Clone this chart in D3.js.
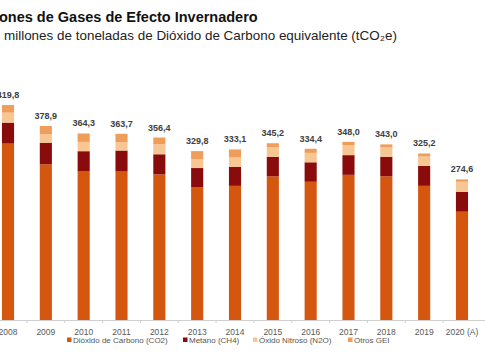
<!DOCTYPE html>
<html>
<head>
<meta charset="utf-8">
<script src="https://cdn.jsdelivr.net/npm/d3@7"></script>
<style>
  body { margin: 0; background: #fff; }
  svg { display: block; }
</style>
</head>
<body>
<div class="chart"></div>
<script>
// emisiones por gas, millones tCO2e
let years = ["2008", "2009", "2010", "2011", "2012", "2013", "2014", "2015", "2016", "2017", "2018", "2019", "2020 (A)"];
let co2   = [344.5, 304.0, 290.0, 290.0, 284.5, 259.6, 262.0, 280.5, 270.0, 283.5, 280.5, 262.0, 211.5];
let ch4   = [41.0, 42.3, 39.7, 41.0, 39.2, 37.2, 37.3, 38.3, 38.0, 38.5, 38.3, 39.0, 39.0];
let n2o   = [19.5, 16.3, 18.2, 16.1, 19.5, 17.0, 18.5, 18.5, 18.4, 19.5, 18.3, 18.3, 19.5];
let otros = [14.8, 16.3, 16.4, 16.6, 13.2, 16.0, 15.3, 7.9, 8.0, 6.5, 5.9, 5.9, 4.6];
let totals = ["419,8", "378,9", "364,3", "363,7", "356,4", "329,8", "333,1", "345,2", "334,4", "348,0", "343,0", "325,2", "274,6"];

let seriesNames = ["Dióxido de Carbono (CO2)", "Metano (CH4)", "Óxido Nitroso (N2O)", "Otros GEI"];
let keys = ["co2", "ch4", "n2o", "otros"];
let colors = ["#d4560f", "#8a0b0b", "#f7c693", "#ee9d5a"];

let width = 485, height = 360;
let font = "Liberation Sans, Arial, sans-serif";

let rows = years.map((y, i) => ({
	year: y, co2: co2[i], ch4: ch4[i], n2o: n2o[i], otros: otros[i], label: totals[i]
}));

let svg = d3.select(".chart")
	.append("svg")
	.attr("width", width)
	.attr("height", height);

// titulo (recortado a la izquierda como en la imagen)
function croppedText(full, prefixLen, x, y, size, weight, fill) {
	let t = svg.append("text")
		.attr("y", y)
		.attr("font-family", font)
		.attr("font-size", size)
		.attr("font-weight", weight)
		.attr("fill", fill)
		.text(full);
	let w = t.node().getSubStringLength(0, prefixLen);
	t.attr("x", x - w);
}
croppedText("Emisiones de Gases de Efecto Invernadero", 5, -1, 22, 14.5, "bold", "#111");
croppedText("En millones de toneladas de Dióxido de Carbono equivalente (tCO₂e)", 3, 4, 40, 13.45, "normal", "#222");

let baseY = 320;
let x = d3.scaleBand()
	.domain(years)
	.range([-10.9, 480.9])
	.paddingInner(0.68)
	.paddingOuter(0.34);

let y = d3.scaleLinear()
	.domain([0, 450])
	.range([baseY, baseY - 450 * 0.512]);

let stack = d3.stack().keys(keys)(rows);

svg.append("g")
	.selectAll("g")
	.data(stack)
	.enter().append("g")
	.attr("fill", (d, i) => colors[i])
	.selectAll("rect")
	.data(d => d)
	.enter().append("rect")
	.attr("x", d => x(d.data.year))
	.attr("width", x.bandwidth())
	.attr("y", d => y(d[1]))
	.attr("height", d => y(d[0]) - y(d[1]));

// etiquetas de total
svg.append("g")
	.selectAll("text")
	.data(rows)
	.enter().append("text")
	.attr("x", d => x(d.year) + x.bandwidth() / 2)
	.attr("y", d => y(d.co2 + d.ch4 + d.n2o + d.otros) - 7)
	.attr("text-anchor", "middle")
	.attr("font-family", font)
	.attr("font-size", 9)
	.attr("font-weight", "bold")
	.attr("fill", "#404040")
	.text(d => d.label);

// eje x
let axis = svg.append("g")
	.attr("transform", `translate(0,${baseY})`)
	.call(d3.axisBottom(x).tickSize(0).tickPadding(9));
axis.select(".domain").attr("stroke", "#d0d0d0").attr("d", "M0,0.5H485");
axis.selectAll("text")
	.attr("font-family", font)
	.attr("font-size", 8.5)
	.attr("fill", "#595959");
axis.selectAll(".sep")
	.data(years.slice(1))
	.enter().append("line")
	.attr("class", "sep")
	.attr("x1", d => x(d) - x.step() * 0.34)
	.attr("x2", d => x(d) - x.step() * 0.34)
	.attr("y1", 0)
	.attr("y2", 3)
	.attr("stroke", "#d0d0d0");

// leyenda
let legendX = [67, 183, 253, 348];
let legend = svg.append("g")
	.selectAll("g")
	.data(seriesNames)
	.enter().append("g")
	.attr("transform", (d, i) => `translate(${legendX[i]},343)`);
legend.append("rect")
	.attr("x", 0).attr("y", -5.5)
	.attr("width", 4.5).attr("height", 4.5)
	.attr("fill", (d, i) => colors[i]);
legend.append("text")
	.attr("x", 6)
	.attr("y", 0)
	.attr("font-family", font)
	.attr("font-size", 8)
	.attr("fill", "#555")
	.text(d => d);
</script>
</body>
</html>
